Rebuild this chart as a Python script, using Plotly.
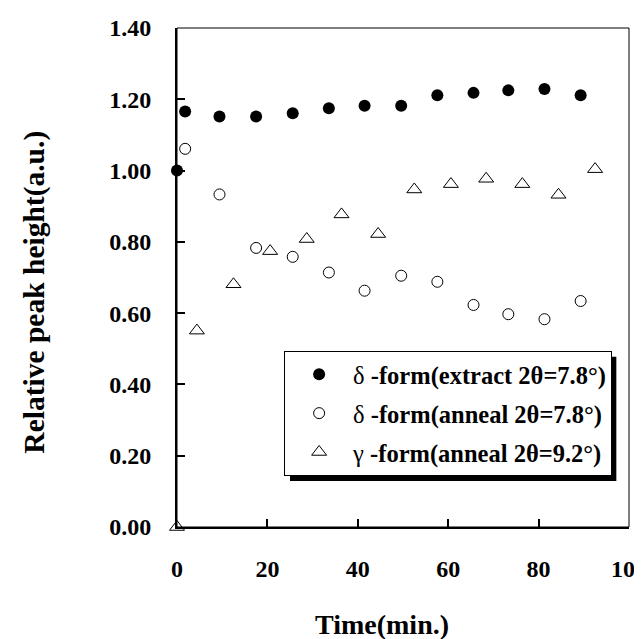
import plotly.graph_objects as go

time_extract = [0, 1.8, 9.4, 17.5, 25.6, 33.6, 41.5, 49.6, 57.6, 65.6, 73.3, 81.3, 89.3]
delta_extract = [1.00, 1.166, 1.152, 1.152, 1.161, 1.175, 1.182, 1.182, 1.211, 1.218, 1.225, 1.229, 1.211]

time_anneal = [1.8, 9.4, 17.5, 25.6, 33.6, 41.5, 49.6, 57.6, 65.6, 73.3, 81.3, 89.3]
delta_anneal = [1.061, 0.933, 0.783, 0.758, 0.714, 0.663, 0.705, 0.688, 0.623, 0.597, 0.583, 0.634]

time_gamma = [0, 4.4, 12.5, 20.6, 28.7, 36.4, 44.5, 52.5, 60.6, 68.4, 76.4, 84.4, 92.5]
gamma_anneal = [0, 0.551, 0.681, 0.774, 0.808, 0.877, 0.822, 0.947, 0.962, 0.977, 0.962, 0.932, 1.004]

y_ticks = [0, 0.2, 0.4, 0.6, 0.8, 1.0, 1.2, 1.4]
x_ticks = [0, 20, 40, 60, 80, 100]

names = [
    "<span style='font-weight:normal'>δ</span> -form(extract 2θ=7.8°)",
    "<span style='font-weight:normal'>δ</span> -form(anneal 2θ=7.8°)",
    "<span style='font-weight:normal'>γ</span> -form(anneal 2θ=9.2°)",
]

font_family = "Liberation Serif"
text_color = "black"

fig = go.Figure()
fig.add_trace(go.Scatter(x=time_extract, y=delta_extract, mode="markers", name=names[0],
                         legendgroup="a", cliponaxis=False,
                         marker=dict(symbol="circle", size=12, color="black")))
fig.add_trace(go.Scatter(x=time_anneal, y=delta_anneal, mode="markers", name=names[1],
                         legendgroup="b", cliponaxis=False,
                         marker=dict(symbol="circle-open", size=11, color="black",
                                     line=dict(width=1, color="black"))))
fig.add_trace(go.Scatter(x=time_gamma, y=gamma_anneal, mode="markers", name=names[2],
                         legendgroup="c", cliponaxis=False,
                         marker=dict(symbol="triangle-up-open", size=13, color="black",
                                     line=dict(width=1, color="black"))))

# thin frame around plot area + legend drop shadow
fig.add_shape(type="rect", xref="paper", yref="paper", x0=0, x1=1, y0=0, y1=1,
              line=dict(color="black", width=1), layer="above")
fig.add_shape(type="rect", xref="paper", yref="paper", x0=0.25, x1=0.972, y0=0.092, y1=0.341,
              fillcolor="black", line=dict(width=0), layer="above")

# axis titles (placed off-centre like the original)
fig.add_annotation(text="Time(min.)", xref="paper", yref="paper", x=0.4535, y=-0.196,
                   xanchor="center", yanchor="middle", showarrow=False,
                   font=dict(family=font_family, size=28, weight="bold"))
fig.add_annotation(text="Relative peak height(a.u.)", xref="paper", yref="paper",
                   x=-0.316, y=0.47, xanchor="center", yanchor="middle",
                   textangle=-90, showarrow=False,
                   font=dict(family=font_family, size=29.5, weight="bold"))

fig.update_layout(
    width=642, height=639,
    plot_bgcolor="white",
    paper_bgcolor="white",
    margin=dict(l=169, r=21, t=20, b=120, autoexpand=False),
    font=dict(family=font_family, color=text_color, size=24, weight="bold"),
    showlegend=True,
    legend=dict(
        x=0.237, y=0.353, xanchor="left", yanchor="top",
        bgcolor="white", bordercolor="black", borderwidth=1,
        font=dict(family=font_family, size=24.5, color=text_color, weight="bold"),
        tracegroupgap=4, itemwidth=58,
    ),
    xaxis=dict(
        range=[0, 100], tickvals=x_ticks, automargin=False,
        showline=True, linewidth=2, linecolor="black", mirror=False,
        ticks="inside", ticklen=8, tickwidth=2, tickcolor="black",
        showgrid=False, zeroline=False,
        ticklabelstandoff=19,
        tickfont=dict(family=font_family, size=24, weight="bold"),
    ),
    yaxis=dict(
        range=[0, 1.4], tickvals=y_ticks, tickformat=".2f", automargin=False,
        showline=True, linewidth=2, linecolor="black", mirror=False,
        ticks="inside", ticklen=8, tickwidth=2, tickcolor="black",
        showgrid=False, zeroline=False,
        ticklabelstandoff=19,
        tickfont=dict(family=font_family, size=24, weight="bold"),
    ),
)

fig.write_html("out.html")
